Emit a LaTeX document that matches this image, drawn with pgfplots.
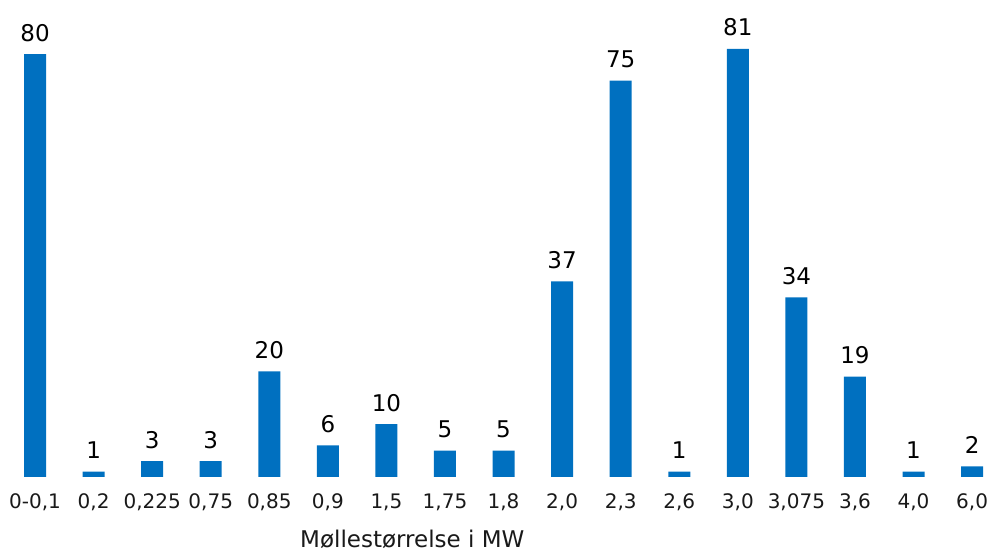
\documentclass[border=0pt]{standalone}
\usepackage{pgfplots}
\pgfplotsset{compat=1.18}
\usepackage{fontspec}
\setmainfont{DejaVu Sans}
\definecolor{barblue}{HTML}{0070C0}
\begin{document}
\begin{tikzpicture}
\begin{axis}[
    at={(0pt,0pt)}, anchor=south west,
    scale only axis,
    width=992pt, height=477pt,
    xmin=-0.598, xmax=16.34,
    ymin=0, ymax=90.25,
    axis line style={draw=none},
    major tick style={draw=none},
    ytick=\empty,
    xtick={0,...,16},
    xticklabels={0-0{,}1,0{,}2,0{,}225,0{,}75,0{,}85,0{,}9,1{,}5,1{,}75,1{,}8,2{,}0,2{,}3,2{,}6,3{,}0,3{,}075,3{,}6,4{,}0,6{,}0},
    xticklabel style={anchor=base, inner sep=0pt, yshift=-32pt, font=\fontsize{20}{22}\selectfont, text=black!90},
    xlabel={Møllestørrelse i MW},
    xlabel style={at={(rel axis cs:0,0)}, anchor=base west, inner sep=0pt, xshift=300pt, yshift=-71pt, font=\fontsize{23}{26}\selectfont, text=black!90},
    /pgf/number format/assume math mode=true,
    nodes near coords,
    nodes near coords style={anchor=base, inner sep=0pt, yshift=13pt, font=\fontsize{23}{25}\selectfont, text=black},
    clip=false,
]
\addplot[ybar, bar width=22pt, fill=barblue, draw=none] coordinates {
    (0,80) (1,1) (2,3) (3,3) (4,20) (5,6) (6,10) (7,5) (8,5)
    (9,37) (10,75) (11,1) (12,81) (13,34) (14,19) (15,1) (16,2)
};
\end{axis}
\pgfresetboundingbox
\path (0pt,-76pt) rectangle (992pt,477pt);
\end{tikzpicture}
\end{document}
